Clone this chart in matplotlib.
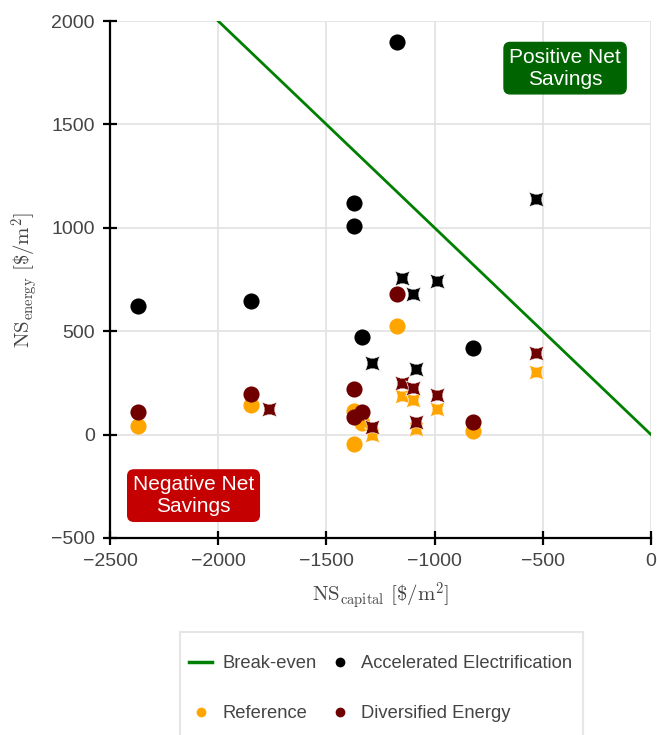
import matplotlib.pyplot as plt
from matplotlib.path import Path
from matplotlib.lines import Line2D
from matplotlib.patches import Rectangle

plt.rcParams['font.family'] = ['Liberation Sans', 'DejaVu Sans']
plt.rcParams['mathtext.fontset'] = 'cm'

# break-even line (NS_energy = -NS_capital)
be_x = [-2000, 0]
be_y = [2000, 0]

# circle points, one list per scenario
circ_x = [-2371, -1850, -1372, -1372, -1335, -1174, -823]
ae_y = [624, 648, 1122, 1011, 474, 1900, 421]
ref_y = [44, 145, 116, -44, 58, 527, 15]
div_y = [111, 198, 222, 87, 111, 682, 63]

# star points
star_x = [-531, -1152, -1100, -989, -1287, -1084]
ae_sy = [1141, 759, 682, 745, 348, 319]
ref_sy = [305, 189, 169, 126, 0, 29]
div_sx = [-1765, -531, -1152, -1100, -989, -1287, -1084]
div_sy = [126, 397, 251, 227, 193, 39, 63]

c_ae = 'black'
c_ref = 'orange'
c_div = '#700000'
c_text = '#444444'

# square star with concave sides
k = 0.3
star = Path([(-1, -1), (0, -k), (1, -1), (k, 0), (1, 1), (0, k), (-1, 1), (-k, 0), (-1, -1)],
            [Path.MOVETO] + [Path.CURVE3] * 8)

fig = plt.figure(figsize=(6.57, 7.35), dpi=100)
ax = fig.add_axes([110 / 657, 1 - 538 / 735, 541 / 657, 517 / 735])

ax.plot(be_x, be_y, color='green', lw=2, zorder=3)

ax.scatter(circ_x, ae_y, s=135, color=c_ae, lw=0, zorder=4)
ax.scatter(circ_x, ref_y, s=135, color=c_ref, lw=0, zorder=4)
ax.scatter(circ_x, div_y, s=135, color=c_div, lw=0, zorder=4)
ax.scatter(star_x, ae_sy, s=130, marker=star, color=c_ae, edgecolor='white', lw=0.4, zorder=5)
ax.scatter(star_x, ref_sy, s=130, marker=star, color=c_ref, edgecolor='white', lw=0.4, zorder=5)
ax.scatter(div_sx, div_sy, s=130, marker=star, color=c_div, edgecolor='white', lw=0.4, zorder=5)

ax.set_xlim(-2500, 0)
ax.set_ylim(-500, 2000)
ax.set_xticks([-2500, -2000, -1500, -1000, -500, 0])
ax.set_yticks([-500, 0, 500, 1000, 1500, 2000])
ax.grid(True, color='#e2e2e2', lw=1.2)
ax.set_axisbelow(True)
for s in ['top', 'right']:
    ax.spines[s].set_visible(False)
for s in ['left', 'bottom']:
    ax.spines[s].set_linewidth(1.6)
    ax.spines[s].set_zorder(6)
ax.tick_params(direction='inout', length=10, width=1.6, labelsize=14,
               labelcolor=c_text, pad=6)

ax.set_xlabel(r'$\mathrm{NS}_{\mathrm{capital}}\ [\$/\mathrm{m}^2]$', fontsize=15,
              color=c_text, labelpad=7)
ax.set_ylabel(r'$\mathrm{NS}_{\mathrm{energy}}\ [\$/\mathrm{m}^2]$', fontsize=15,
              color=c_text, labelpad=8)

ax.text(-397, 1772, 'Positive Net\nSavings', color='white', fontsize=15, ha='center',
        va='center', linespacing=1.2, zorder=7,
        bbox=dict(boxstyle='round,pad=0.25,rounding_size=0.3', fc='#006400', ec='#006400'))
ax.text(-2114, -295, 'Negative Net\nSavings', color='white', fontsize=15, ha='center',
        va='center', linespacing=1.2, zorder=7,
        bbox=dict(boxstyle='round,pad=0.25,rounding_size=0.3', fc='#c40000', ec='#c40000'))

handles = [
    Line2D([], [], color='green', lw=2.5, label='Break-even'),
    Line2D([], [], ls='', marker='o', ms=6, color=c_ref, label='Reference'),
    Line2D([], [], ls='', marker='o', ms=6, color=c_ae, label='Accelerated Electrification'),
    Line2D([], [], ls='', marker='o', ms=6, color=c_div, label='Diversified Energy'),
]
leg = fig.legend(handles=handles, ncol=2, loc='center left',
                 bbox_to_anchor=(189 / 657, 1 - 688.5 / 735), fontsize=13.2,
                 labelspacing=1.8, handlelength=1.28, handletextpad=0.55,
                 columnspacing=0.6, borderpad=0, borderaxespad=0, frameon=False)
for t in leg.get_texts():
    t.set_color(c_text)

# legend frame, running off the bottom of the figure
fig.patches.append(Rectangle((180 / 657, -0.05), 403 / 657, 0.05 + 1 - 632 / 735,
                             transform=fig.transFigure, fill=False,
                             ec='#e6e6e6', lw=1.5))

fig.savefig('out.png', dpi=100)
